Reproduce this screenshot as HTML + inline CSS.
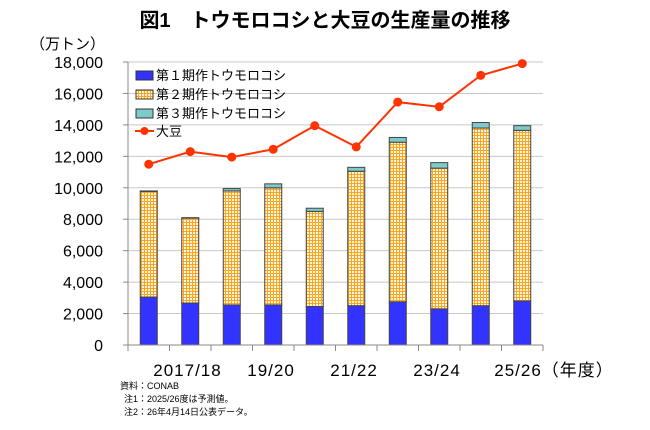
<!DOCTYPE html>
<html><head><meta charset="utf-8">
<style>
body{margin:0;background:#fff;width:650px;height:425px;overflow:hidden;font-family:"Liberation Sans","Noto Sans CJK JP",sans-serif;}
</style></head><body>
<svg id="chart" width="650" height="425" xmlns="http://www.w3.org/2000/svg" font-family="Liberation Sans, Noto Sans CJK JP, sans-serif">
<defs>
<pattern id="grid2" width="3" height="3" patternUnits="userSpaceOnUse">
<rect width="3" height="3" fill="#fff3dc"/>
<path d="M0 0.5H3M0.5 0V3" stroke="#f5a623" stroke-width="1"/>
</pattern>
</defs>
<text x="325" y="27" text-anchor="middle" font-size="20" font-weight="bold">図1　トウモロコシと大豆の生産量の推移</text>
<text x="30" y="49" font-size="15">（万トン）</text>
<g id="grid"></g>
<g id="bars"></g>
<g id="line"></g>
<g id="axes"></g>
<g>
<rect x="136" y="71" width="17" height="9" fill="#3333ff" stroke="#333"/>
<text x="156" y="80" font-size="13">第１期作トウモロコシ</text>
<rect x="136" y="90" width="17" height="9" fill="url(#grid2)" stroke="#333"/>
<text x="156" y="99" font-size="13">第２期作トウモロコシ</text>
<rect x="136" y="109" width="17" height="9" fill="#7fcaca" stroke="#333"/>
<text x="156" y="118" font-size="13">第３期作トウモロコシ</text>
<line x1="135" y1="131" x2="154" y2="131" stroke="#ff3300" stroke-width="2"/>
<circle cx="144.5" cy="131" r="4" fill="#ff3300"/>
<text x="156" y="136" font-size="13">大豆</text>
</g>
<text x="120" y="389" font-size="9">資料：CONAB</text>
<text x="124" y="402" font-size="9">注1：2025/26度は予測値。</text>
<text x="124" y="415" font-size="9">注2：26年4月14日公表データ。</text>
</svg>
<script>
const categories=["2016/17","2017/18","2018/19","2019/20","2020/21","2021/22","2022/23","2023/24","2024/25","2025/26"];
const tickLabels=["","2017/18","","19/20","","21/22","","23/24","","25/26（年度）"];
const firstCrop=[3050,2670,2550,2550,2450,2500,2750,2300,2500,2800];
const secondCrop=[6720,5400,7250,7450,6050,8550,10150,8950,11300,10850];
const thirdCrop=[30,30,150,250,200,250,300,350,350,300];
const soybean=[11500,12300,11950,12450,13950,12600,15450,15150,17150,17900];
const yTicks=[0,2000,4000,6000,8000,10000,12000,14000,16000,18000];
const NS="http://www.w3.org/2000/svg";
const X0=128,X1=543,Y0=345,Y1=62,YMAX=18000;
const bw=(X1-X0)/categories.length;
const yS=v=>Y0-(v/YMAX)*(Y0-Y1);
const xC=i=>X0+bw*(i+0.5);
function mk(tag,attrs,parent){const e=document.createElementNS(NS,tag);for(const k in attrs)e.setAttribute(k,attrs[k]);parent.appendChild(e);return e;}
const grid=document.getElementById('grid'),bars=document.getElementById('bars'),line=document.getElementById('line'),axes=document.getElementById('axes');
yTicks.forEach(t=>{
  const y=yS(t);
  if(t>0){const g=mk('line',{x1:X0,x2:X1,y1:y,y2:y,stroke:'#c8c8c8','stroke-width':1},grid);
  
  }
  const tk=mk('line',{x1:X0-5,x2:X0,y1:y,y2:y,stroke:'#888'},axes);
  
  
  const tx=mk('text',{x:103,y:y+6,'text-anchor':'end','font-size':16},axes);
  tx.textContent=t.toLocaleString('en-US');
  
  
});
categories.forEach((c,i)=>{
  const x=xC(i)-8.5;let base=0;
  [[firstCrop[i],'#3333ff','bar-first'],[secondCrop[i],'url(#grid2)','bar-second'],[thirdCrop[i],'#7fcaca','bar-third']].forEach(([v,f,n])=>{
    const r=mk('rect',{x:x,y:yS(base+v),width:17,height:yS(base)-yS(base+v),fill:f,stroke:'#444','stroke-width':1},bars);
    
    
    base+=v;
  });
  const tk=mk('line',{x1:X0+bw*i,x2:X0+bw*i,y1:Y0,y2:Y0+6,stroke:'#888'},axes);
  
  
  if(tickLabels[i]){const t=mk('text',{x:xC(i)-(i===1?37:i===9?28:26),y:376,'font-size':17,'letter-spacing':1},axes);
  t.textContent=tickLabels[i];
  
  }
});
const lastTk=mk('line',{x1:X1,x2:X1,y1:Y0,y2:Y0+6,stroke:'#888'},axes);


const xa=mk('line',{x1:X0,x2:X1,y1:Y0,y2:Y0,stroke:'#888'},axes);


const ya=mk('line',{x1:X0,x2:X0,y1:Y1,y2:Y0,stroke:'#888'},axes);


const pl=mk('polyline',{points:soybean.map((v,i)=>xC(i)+','+yS(v)).join(' '),fill:'none',stroke:'#ff3300','stroke-width':2},line);


soybean.forEach((v,i)=>{
  const c=mk('circle',{cx:xC(i),cy:yS(v),r:4.5,fill:'#ff3300'},line);
  
  
});
</script>
</body></html>
